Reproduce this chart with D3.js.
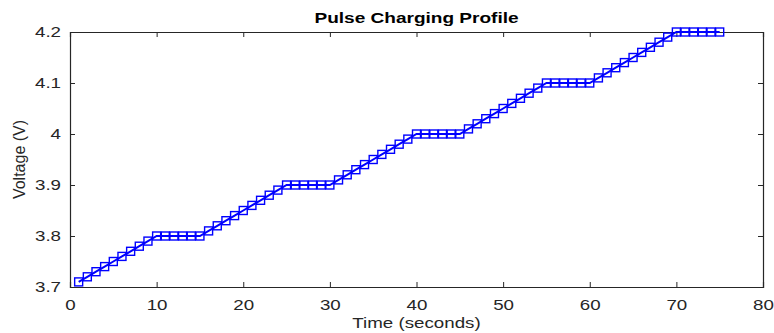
<!DOCTYPE html>
<html><head><meta charset="utf-8">
<script src="https://cdn.jsdelivr.net/npm/d3@7"></script>
<style>
body{margin:0;background:#fff;}
text{font-family:"Liberation Sans",Arial,Helvetica,sans-serif;fill:#262626;}
</style></head>
<body><svg id="c" width="774" height="333"></svg>
<script>
const timeSec = [1,2,3,4,5,6,7,8,9,10,11,12,13,14,15,16,17,18,19,20,21,22,23,24,25,26,27,28,29,30,31,32,33,34,35,36,37,38,39,40,41,42,43,44,45,46,47,48,49,50,51,52,53,54,55,56,57,58,59,60,61,62,63,64,65,66,67,68,69,70,71,72,73,74,75];
const voltage = [3.71,3.72,3.73,3.74,3.75,3.76,3.77,3.78,3.79,3.80,3.80,3.80,3.80,3.80,3.80,
3.81,3.82,3.83,3.84,3.85,3.86,3.87,3.88,3.89,3.90,3.90,3.90,3.90,3.90,3.90,
3.91,3.92,3.93,3.94,3.95,3.96,3.97,3.98,3.99,4.00,4.00,4.00,4.00,4.00,4.00,
4.01,4.02,4.03,4.04,4.05,4.06,4.07,4.08,4.09,4.10,4.10,4.10,4.10,4.10,4.10,
4.11,4.12,4.13,4.14,4.15,4.16,4.17,4.18,4.19,4.20,4.20,4.20,4.20,4.20,4.20];
const xTicks = [0,10,20,30,40,50,60,70,80];
const yTicks = [3.7,3.8,3.9,4.0,4.1,4.2];
const yTickLabels = ["3.7","3.8","3.9","4","4.1","4.2"];
const titleText = "Pulse Charging Profile";
const xLabel = "Time (seconds)";
const yLabel = "Voltage (V)";

const L=70,R=763,T=32,B=287;
const svg=d3.select("#c");
const x=d3.scaleLinear().domain([0,80]).range([L,R]);
const y=d3.scaleLinear().domain([3.7,4.2]).range([B,T]);
const axisColor="#262626";
const SX=1.25;

// axes
const gx=svg.append("g").attr("transform",`translate(0,${B})`)
  .call(d3.axisBottom(x).tickValues(xTicks).tickSize(-5).tickPadding(12).tickFormat(d3.format("d")));
const gxT=svg.append("g").attr("transform",`translate(0,${T})`)
  .call(d3.axisTop(x).tickValues(xTicks).tickSize(-5).tickFormat(""));
const gy=svg.append("g").attr("transform",`translate(${L},0)`)
  .call(d3.axisLeft(y).tickValues(yTicks).tickSize(-5).tickPadding(9).tickFormat((d,i)=>yTickLabels[i]));
const gyR=svg.append("g").attr("transform",`translate(${R},0)`)
  .call(d3.axisRight(y).tickValues(yTicks).tickSize(-5).tickFormat(""));
[gx,gxT,gy,gyR].forEach(g=>{
  g.selectAll("path.domain").attr("stroke",axisColor).attr("stroke-width",1.2);
  g.selectAll(".tick line").attr("stroke",axisColor).attr("stroke-width",1);
  g.selectAll(".tick text").attr("font-size",15).attr("fill",axisColor)
   .style("font-family","'Liberation Sans',Arial,sans-serif");
});
gx.selectAll(".tick text").each(function(){
  const t=d3.select(this); t.attr("transform",`scale(${SX},1)`).attr("x",0);
});
gy.selectAll(".tick text").each(function(){
  const t=d3.select(this); const xx=+t.attr("x");
  t.attr("x",xx/SX).attr("transform",`scale(${SX},1)`);
});

// line
const line=d3.line().x((d,i)=>x(timeSec[i])).y(d=>y(d));
svg.append("path").datum(voltage).attr("d",line).attr("fill","none")
  .attr("stroke","#0000ff").attr("stroke-width",2);
const s=8;
svg.append("g").selectAll("rect").data(voltage).join("rect")
  .attr("x",(d,i)=>x(timeSec[i])-s/2).attr("y",d=>y(d)-s/2)
  .attr("width",s).attr("height",s).attr("fill","none")
  .attr("stroke","#0000ff").attr("stroke-width",1.4);

// texts
svg.append("text").attr("transform",`translate(${(L+R)/2},23) scale(1.36,1)`)
  .attr("text-anchor","middle").attr("font-size",14).attr("font-weight","bold")
  .style("fill","#000").text(titleText);
svg.append("text").attr("transform",`translate(${(L+R)/2},328) scale(${SX},1)`)
  .attr("text-anchor","middle").attr("font-size",15).text(xLabel);
svg.append("text").attr("transform",`translate(25,${(T+B)/2}) rotate(-90)`)
  .attr("text-anchor","middle").attr("font-size",16).text(yLabel);
</script></body></html>
